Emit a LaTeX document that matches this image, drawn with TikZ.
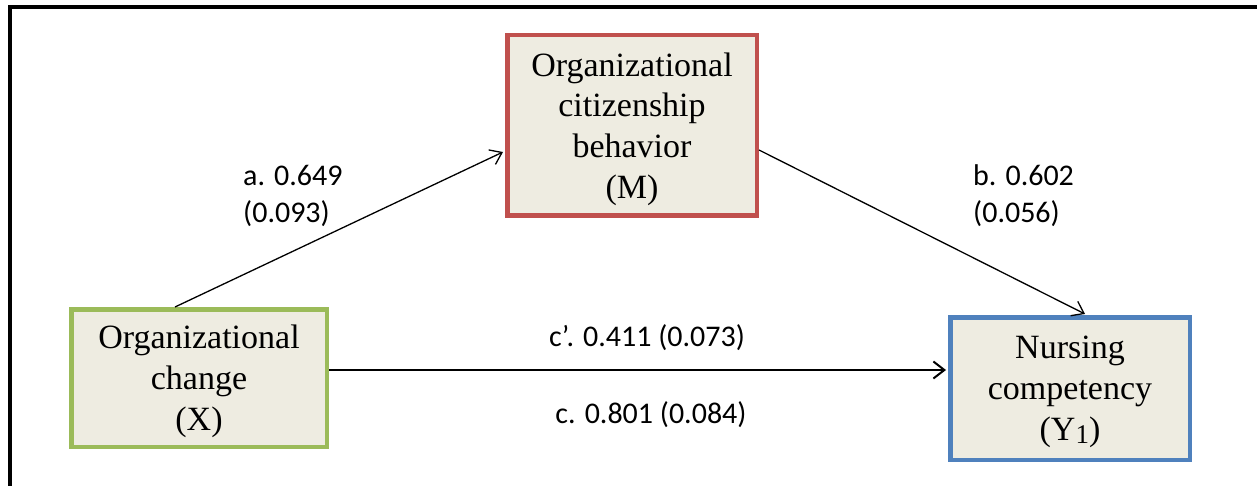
\documentclass[tikz,border=0pt]{standalone}
\usepackage{fontspec}
\setmainfont{Liberation Serif}
\newfontfamily\lblfont{Carlito}
\usetikzlibrary{arrows.meta}
\definecolor{boxfill}{HTML}{EEECE1}
\definecolor{gborder}{HTML}{9BBB59}
\definecolor{rborder}{HTML}{C0504D}
\definecolor{bborder}{HTML}{4F81BD}
\newcommand{\mysub}[1]{{\fontsize{27}{30}\selectfont\raisebox{-2.5pt}{#1}}}
\tikzset{
  varbox/.style={draw, fill=boxfill, line width=4.5pt, align=center, inner sep=0pt,
    text depth=0pt, font=\fontsize{34}{40.8}\selectfont, text=black},
  lbl/.style={align=left, font=\lblfont\fontsize{30}{37}\selectfont, inner sep=0pt, text=black},
  conn/.style={line width=1.3pt, -{Straight Barb[length=11pt,width=16pt,line width=1.3pt]}},
  hconn/.style={line width=2pt, -{Straight Barb[length=11pt,width=17pt,line width=2pt]}}
}
\begin{document}
\begin{tikzpicture}[x=1pt,y=-1pt]
\useasboundingbox (0,0) rectangle (1257,486);
\fill[white] (0,0) rectangle (1257,486);
% frame (top and left lines)
\draw[line width=4pt] (10,486) -- (10,7) -- (1257,7);
% boxes
\node[varbox, draw=gborder, minimum width=255.5pt, minimum height=137.5pt] (X) at (199,378) {Organizational\\change\\(X)};
\node[varbox, draw=rborder, minimum width=249.5pt, minimum height=180.5pt] (M) at (632,125.5) {Organizational\\citizenship\\behavior\\(M)};
\node[varbox, draw=bborder, minimum width=239.5pt, minimum height=142.5pt] (Y) at (1070,388.5) {Nursing\\competency\\(Y\mysub{1})};
% connector anchors
\coordinate (xa) at (175,307);
\coordinate (ma) at (503,152);
\coordinate (mb) at (759,150);
\coordinate (yb) at (1085,314);
\coordinate (xc) at (329,370);
\coordinate (yc) at (946,370);
\draw[conn] (xa) -- (ma);
\draw[conn] (mb) -- (yb);
\draw[hconn] (xc) -- (yc);
% labels
\node[lbl, anchor=west] (la) at (243,196) {a. 0.649\\(0.093)};
\node[lbl, anchor=west] (lb) at (973,196) {b. 0.602\\(0.056)};
\node[lbl] (lc1) at (647,338) {c’. 0.411 (0.073)};
\node[lbl] (lc2) at (651,415) {c. 0.801 (0.084)};
\end{tikzpicture}
\end{document}
